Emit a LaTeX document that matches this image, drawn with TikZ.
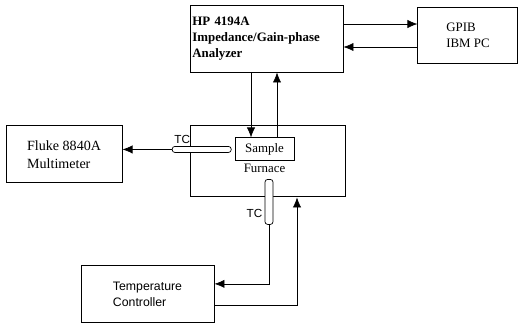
\documentclass[tikz,border=0pt]{standalone}
\usepackage{fontspec}
\setmainfont{Liberation Serif}
\newfontfamily\helv{Liberation Sans}
\usetikzlibrary{arrows.meta,positioning}

\begin{document}
\begin{tikzpicture}[
caja/.style={draw,line width=0.8pt,align=left,font=\fontsize{11}{13.5}\selectfont},
tubo/.style={draw,line width=0.6pt,fill=white,rounded corners=0.8mm,inner sep=0pt},
arr/.style={-{Latex[length=3mm,width=2.5mm]},line width=0.6pt},
lbl/.style={font=\helv\fontsize{10}{12}\selectfont,inner sep=1pt}
]
\useasboundingbox (0,0) rectangle (15.6,-9.66);
\node[caja,minimum width=4.59cm,minimum height=2.01cm,text width=4.45cm,inner xsep=0.07cm,font=\bfseries\fontsize{11}{13.5}\selectfont] (hp) at (7.995,-1.155) {HP 4194A\\Impedance/Gain-phase\\Analyzer};
\node[caja,minimum width=3cm,minimum height=1.68cm,right=2.22cm of hp,yshift=0.105cm] (gpib) {GPIB\\IBM PC};
\node[caja,minimum width=4.65cm,minimum height=2.13cm,below=1.59cm of hp,xshift=0.03cm] (horno) {};
\node[caja,minimum width=1.77cm,minimum height=0.69cm,below=0.36cm of horno.north,xshift=-0.09cm] (muestra) {Sample};
\node[font=\fontsize{11}{13}\selectfont,below=0.5mm of muestra,inner sep=1pt] (lhorno) {Furnace};
\node[caja,font=\fontsize{12}{15}\selectfont,minimum width=3.48cm,minimum height=1.71cm,left=2.01cm of horno,yshift=0.21cm] (fluke) {Fluke 8840A\\Multimeter};
\node[caja,font=\helv\fontsize{10.5}{13.5}\selectfont,minimum width=3.99cm,minimum height=1.71cm,below=2.04cm of horno,xshift=-3.6cm] (control) {Temperature\\Controller};

\node[tubo,minimum width=1.77cm,minimum height=0.18cm,left=0.09cm of muestra] (tcizq) {};
\node[tubo,minimum width=0.24cm,minimum height=1.35cm] (tcinf) at ([xshift=0.045cm,yshift=-0.135cm]horno.south) {};
\node[lbl,above=0.3mm of tcizq,xshift=-0.585cm] (lblizq) {TC};
\node[lbl,left=0.3mm of tcinf,yshift=-0.345cm] (lblinf) {TC};

\draw[arr] ([yshift=0.435cm]hp.east) -- ([yshift=0.435cm]hp.east -| gpib.west);
\draw[arr] ([yshift=-0.255cm]hp.east -| gpib.west) -- ([yshift=-0.255cm]hp.east);
\draw[arr] ([xshift=-0.405cm]muestra.north |- hp.south) -- ([xshift=-0.405cm]muestra.north);
\draw[arr] ([xshift=0.375cm]muestra.north) -- ([xshift=0.375cm]muestra.north |- hp.south);
\draw[arr] (tcizq.west) -- (tcizq.west -| fluke.east);
\draw[arr] (tcinf.south) |- ([yshift=0.315cm]control.east);
\draw[arr] ([yshift=-0.315cm]control.east) -| ([xshift=0.885cm]horno.south);
\end{tikzpicture}
\end{document}
